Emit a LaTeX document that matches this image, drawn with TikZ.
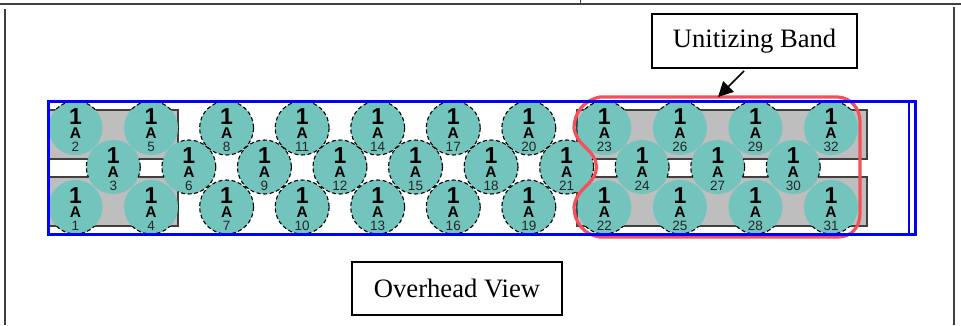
\documentclass[tikz,border=0pt]{standalone}
\usepackage{fontspec}
\setmainfont{Liberation Serif}
\setsansfont{Liberation Sans}
\usetikzlibrary{arrows.meta}
\definecolor{discteal}{HTML}{73C4BC}
\definecolor{palletgray}{HTML}{BEBEBE}
\definecolor{bandred}{HTML}{F5505A}
\definecolor{frameline}{HTML}{404040}
\tikzset{
  disc/.style={circle,fill=discteal,minimum size=54pt,inner sep=0pt,outer sep=0pt},
  discedge/.style={draw=black,line width=1.1pt,dash pattern=on 4pt off 2.6pt},
  pallet/.style={fill=palletgray,draw=frameline,line width=1.3pt},
  bigdigit/.style={inner sep=0pt,font=\fontsize{23}{23}\selectfont\sffamily\bfseries},
  midletter/.style={inner sep=0pt,font=\fontsize{15.5}{15.5}\selectfont\sffamily\bfseries},
  smallnum/.style={inner sep=0pt,text=black!85,font=\fontsize{13.5}{13.5}\selectfont\sffamily},
  labelbox/.style={draw=black,line width=2pt,fill=white,inner sep=0pt,anchor=center,font=\fontsize{26.6}{28}\selectfont},
  frame/.style={draw=frameline,line width=2pt},
  trailer/.style={draw=blue,line width=3pt},
  band/.style={draw=bandred,line width=3.2pt,line join=round},
  pointer/.style={draw=black,line width=1.6pt,-{Triangle[length=15pt,width=15pt]}}
}
\begin{document}
\begin{tikzpicture}[x=1pt,y=-1pt]
\useasboundingbox (0,0) rectangle (961,325);
% frame
\draw[frame] (0,3.5) -- (961,3.5);
\draw[frame,line width=1pt] (580,0) -- (580,3.5);
\draw[frame,line width=2.4pt] (5,9) -- (5,325);
\draw[frame] (954,7) -- (954,325);
% pallets
\draw[pallet] (49,110) rectangle (178,159);
\draw[pallet] (49,177) rectangle (178,226);
\draw[pallet] (577,110) rectangle (867,159);
\draw[pallet] (577,177) rectangle (867,226);
% discs
\foreach \n in {1,...,32}{
  \pgfmathtruncatemacro{\g}{int((\n-1)/3)}
  \pgfmathtruncatemacro{\r}{\n-1-3*\g}
  \pgfmathsetmacro{\cx}{75.5+75.55*\g+(\r==2)*37.8}
  \pgfmathsetmacro{\cy}{(\r==0)*207+(\r==1)*128+(\r==2)*167}
  \node[disc] (c\n) at (\cx,\cy) {};
}
% dashed outlines, visible only off the pallets
\begin{scope}
  \clip (47,100) rectangle (916,110)
        (47,226) rectangle (916,234)
        (47,159) rectangle (916,177)
        (178,100) rectangle (577,234);
  \foreach \n in {1,...,32}{
    \draw[discedge] (c\n.center) circle [radius=27];
  }
\end{scope}
% disc labels
\foreach \n in {1,...,32}{
  \node[bigdigit] (d\n) at ([yshift=11.5pt]c\n.center) {1};
  \node[midletter] (a\n) at ([yshift=-5.5pt]c\n.center) {A};
  \node[smallnum] (m\n) at ([yshift=-19pt]c\n.center) {\n};
}
% unitizing band
\draw[band] (600,97) -- (838,97)
  .. controls (851,98) and (860,108) .. (860,122) -- (860,213)
  .. controls (860,228) and (851,237) .. (838,237) -- (600,237)
  .. controls (584,235) and (574,222) .. (574,207)
  .. controls (575,198) and (580,192) .. (585,187)
  .. controls (592,181) and (596.5,174) .. (596.5,167)
  .. controls (596.5,160) and (592,153) .. (585,147)
  .. controls (580,142) and (575,136) .. (574,128)
  .. controls (574,113) and (584,100) .. (600,97) -- cycle;
% trailer
\draw[trailer] (48.5,101) rectangle (915.5,234);
\draw[trailer,line width=2pt] (909,101) -- (909,234);
% labels
\node[labelbox,minimum width=205pt,minimum height=54pt] (bandbox) at (754.5,41) {Unitizing Band};
\node[labelbox,minimum width=210pt,minimum height=53pt] (viewbox) at (457,288.5) {Overhead View};
% pointer
\coordinate (pointstart) at (744,71);
\coordinate (pointend) at (718,97);
\draw[pointer] (pointstart) -- (pointend);
\end{tikzpicture}
\end{document}
